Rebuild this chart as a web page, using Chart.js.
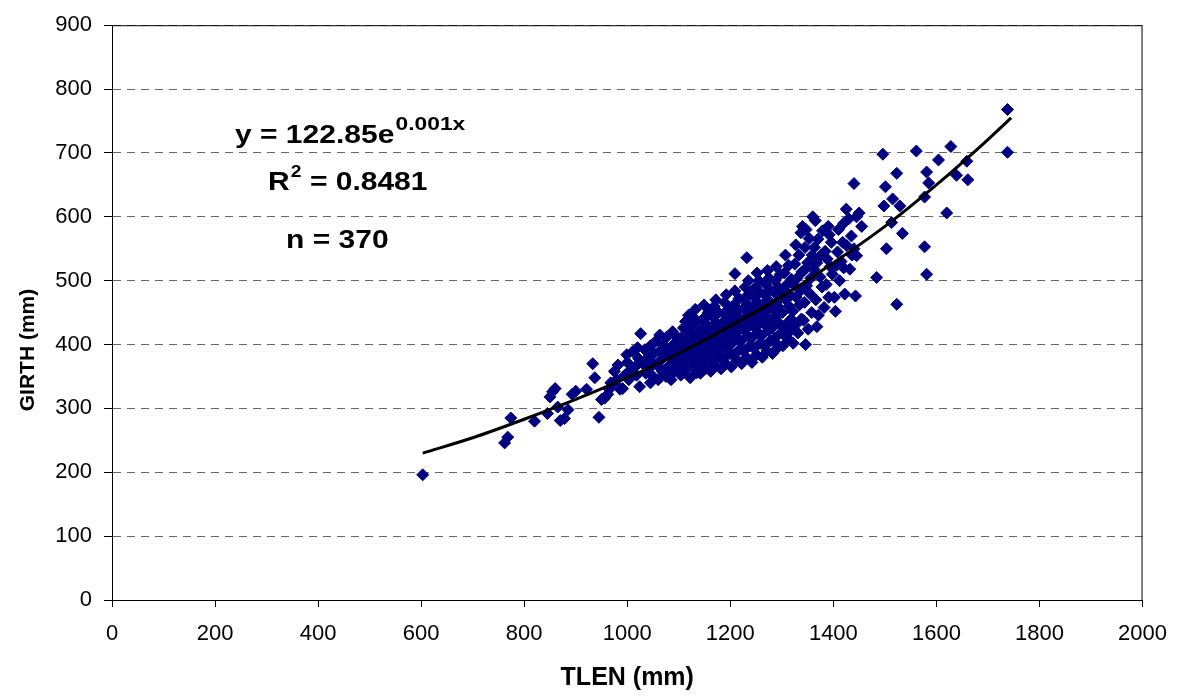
<!DOCTYPE html>
<html>
<head>
<meta charset="utf-8">
<script src="https://cdn.jsdelivr.net/npm/chart.js@4.4.1/dist/chart.umd.min.js"></script>
<style>
  body { margin: 0; background: #fff; }
</style>
</head>
<body>
<canvas id="myChart" width="1181" height="696"></canvas>
<script>
// Scatter data (TLEN vs GIRTH, mm)
var tlen = [
  // tail
  603, 762, 768, 774, 820, 845, 850, 855, 860, 865, 870, 878, 885, 893, 900,
  // 900-1000
  921, 933, 937, 945, 950, 956, 962, 968, 972, 975, 982, 986, 991, 995, 999, 1000, 1003, 1006, 980, 965,
  // 1000-1100
  1011, 1015, 1018, 1022, 1024, 1026, 1030, 1034, 1036, 1040, 1042, 1045, 1048, 1050, 1052, 1055, 1058, 1060, 1063, 1063,
  1066, 1068, 1070, 1072, 1075, 1077, 1080, 1082, 1085, 1088, 1090, 1092, 1094, 1096, 1098, 1100, 1100, 1020, 1045, 1085,
  // 1100-1200
  1104, 1112, 1108, 1116, 1102, 1118, 1106, 1114, 1110, 1103, 1117, 1109, 1113, 1119, 1111, 1105, 1115,
  1122, 1135, 1128, 1138, 1124, 1131, 1126, 1137, 1121, 1133, 1129, 1139, 1125, 1134, 1127, 1132, 1136, 1130,
  1142, 1151, 1146, 1158, 1141, 1154, 1148, 1156, 1143, 1150, 1159, 1145, 1153, 1147, 1157, 1149, 1152, 1144, 1155,
  1162, 1171, 1166, 1178, 1161, 1174, 1168, 1176, 1163, 1170, 1179, 1165, 1173, 1167, 1177, 1169, 1172, 1164, 1175,
  1182, 1191, 1186, 1198, 1181, 1194, 1188, 1196, 1183, 1190, 1199, 1185, 1193, 1187, 1197, 1189, 1192, 1184, 1195,
  // 1200-1300
  1202, 1212, 1206, 1218, 1201, 1214, 1208, 1216, 1203, 1210, 1219, 1205, 1213, 1207, 1217, 1209, 1209, 1204, 1215,
  1222, 1231, 1226, 1238, 1221, 1234, 1228, 1236, 1223, 1230, 1239, 1225, 1233, 1227, 1237, 1229, 1235, 1232, 1224, 1240,
  1242, 1251, 1246, 1258, 1241, 1254, 1248, 1256, 1243, 1250, 1259, 1245, 1253, 1247, 1257, 1249, 1255, 1252, 1244, 1260,
  1262, 1271, 1266, 1278, 1261, 1274, 1268, 1276, 1263, 1270, 1279, 1265, 1273, 1267, 1277, 1269, 1275, 1272, 1264,
  1282, 1288, 1291, 1286, 1298, 1281, 1294, 1284, 1296, 1283, 1290, 1299, 1285, 1293, 1287, 1297, 1289, 1292,
  // 1300-1400
  1302, 1311, 1315, 1306, 1318, 1301, 1314, 1308, 1316, 1303, 1310, 1319, 1305, 1313, 1307, 1309,
  1322, 1331, 1326, 1338, 1321, 1334, 1328, 1336, 1323, 1330, 1339, 1325, 1333, 1327, 1337, 1340,
  1346, 1351, 1342, 1358, 1344, 1354, 1348, 1356, 1343, 1350, 1359, 1345, 1353, 1347, 1360,
  1368, 1371, 1366, 1378, 1374, 1362, 1368, 1376, 1363, 1370, 1379, 1365,
  1382, 1391, 1386, 1398, 1394, 1388, 1384, 1396, 1392, 1390,
  // 1400-1460
  1402, 1404, 1406, 1410, 1415, 1420, 1422, 1426, 1430, 1432, 1425, 1420, 1435, 1440, 1440, 1443, 1445, 1445, 1450, 1455,
  1412, 1408, 1418, 1436,
  // 1480+
  1484, 1496, 1501, 1498, 1503, 1513, 1515, 1523, 1523, 1529, 1534, 1561, 1577, 1577, 1581, 1581, 1585, 1604, 1620, 1628,
  1639, 1659, 1661, 1738, 1738
];
var girth = [
  // tail
  196, 246, 255, 285, 280, 292, 318, 326, 331, 302, 281, 284, 298, 322, 327,
  // 900-1000
  330, 370, 348, 286, 314, 316, 322, 340, 339, 358, 368, 330, 331, 352, 384, 372, 345, 360, 345, 330,
  // 1000-1100
  389, 365, 352, 378, 334, 417, 370, 392, 355, 380, 362, 398, 372, 350, 386, 405, 368, 345, 415, 390,
  376, 358, 400, 384, 350, 412, 366, 392, 378, 420, 357, 402, 386, 370, 410, 395, 362, 395, 340, 345,
  // 1100-1200
  352, 360, 368, 374, 380, 386, 392, 398, 404, 410, 418, 426, 436, 446, 372, 384, 396,
  348, 356, 364, 370, 378, 384, 390, 396, 402, 408, 414, 420, 428, 436, 444, 455, 388, 400,
  355, 362, 370, 376, 382, 388, 394, 400, 406, 412, 418, 424, 432, 440, 450, 462, 396, 410, 380,
  358, 366, 372, 380, 386, 392, 398, 404, 410, 416, 422, 428, 434, 442, 450, 460, 470, 402, 418,
  362, 370, 378, 386, 392, 398, 404, 410, 416, 422, 428, 434, 440, 448, 456, 466, 478, 412, 430,
  // 1200-1300
  365, 376, 384, 392, 400, 408, 416, 422, 428, 434, 440, 446, 454, 462, 472, 484, 511, 420, 438,
  370, 380, 390, 398, 406, 414, 422, 430, 436, 442, 448, 456, 464, 472, 480, 490, 500, 536, 428, 446,
  372, 384, 394, 402, 410, 418, 426, 434, 440, 446, 452, 458, 466, 474, 482, 490, 500, 512, 440, 456,
  380, 390, 398, 406, 414, 422, 430, 438, 446, 452, 458, 464, 470, 478, 486, 494, 504, 516, 450,
  386, 392, 400, 410, 418, 426, 434, 442, 450, 458, 466, 474, 482, 490, 500, 510, 522, 460,
  // 1300-1400
  398, 410, 420, 430, 440, 450, 460, 470, 478, 486, 494, 502, 512, 524, 540, 470,
  402, 418, 430, 440, 452, 462, 474, 484, 494, 504, 514, 526, 540, 556, 575, 585,
  400, 424, 438, 450, 466, 480, 492, 504, 516, 528, 540, 552, 566, 580, 600,
  428, 446, 470, 490, 506, 518, 528, 540, 552, 565, 578, 594,
  458, 474, 494, 510, 522, 534, 546, 560, 572, 585,
  // 1400-1460
  474, 452, 524, 580, 530, 520, 479, 555, 597, 518, 612, 590, 570, 652, 550, 476, 539, 600, 606, 585,
  500, 545, 560, 540,
  // 1480+
  505, 698, 647, 617, 550, 591, 628, 668, 463, 617, 574, 703, 631, 553, 510, 670, 653, 689, 606, 710,
  665, 687, 658, 768, 701
];

// Trend line as it appears in the picture
var trendX = [603, 700, 800, 900, 1000, 1100, 1200, 1300, 1400, 1500, 1600, 1700, 1745];
var trendY = [230, 254, 283, 314, 348, 386, 429, 475, 528, 585, 650, 721, 755];

// Text box in the plot
var noteLines = [
  { text: 'y = 122.85e', sup: '0.001x', rest: '', x: 235, y: 143 },
  { text: 'R', sup: '2', rest: ' = 0.8481', x: 268, y: 190 },
  { text: 'n = 370', sup: '', rest: '', x: 286, y: 248 }
];

var FONT = "'Liberation Sans', Arial, sans-serif";

var points = tlen.map(function (x, i) { return { x: x, y: girth[i] }; });
var trend = trendX.map(function (x, i) { return { x: x, y: trendY[i] }; });

var frame = {
  id: 'frame',
  afterDraw: function (chart) {
    var a = chart.chartArea, ctx = chart.ctx;
    ctx.save();
    ctx.strokeStyle = '#000';
    ctx.lineWidth = 1;
    ctx.strokeRect(a.left + 0.5, a.top + 0.5, a.right - a.left - 1, a.bottom - a.top);
    ctx.fillStyle = '#000';
    noteLines.forEach(function (n) {
      ctx.save();
      ctx.translate(n.x, n.y);
      ctx.scale(1.2, 1);
      ctx.font = 'bold 25px ' + FONT;
      ctx.textBaseline = 'alphabetic';
      ctx.fillText(n.text, 0, 0);
      var w = ctx.measureText(n.text).width;
      if (n.sup) {
        ctx.font = 'bold ' + (n.sup.length > 1 ? 19 : 16) + 'px ' + FONT;
        ctx.fillText(n.sup, w + 1, -13);
        w += ctx.measureText(n.sup).width + 1;
      }
      if (n.rest) {
        ctx.font = 'bold 25px ' + FONT;
        ctx.fillText(n.rest, w, 0);
      }
      ctx.restore();
    });
    // y axis title, sitting a bit below the axis middle as in the picture
    ctx.save();
    ctx.translate(28, 350);
    ctx.rotate(-Math.PI / 2);
    ctx.font = 'bold 21px ' + FONT;
    ctx.textAlign = 'center';
    ctx.textBaseline = 'middle';
    ctx.fillText('GIRTH (mm)', 0, 0);
    ctx.restore();
    ctx.restore();
  }
};

var ctx = document.getElementById('myChart');
var myChart = new Chart(ctx, {
  type: 'scatter',
  data: {
    datasets: [
      {
        data: trend,
        showLine: true,
        borderColor: '#000',
        borderWidth: 3,
        pointRadius: 0,
        cubicInterpolationMode: 'monotone',
        fill: false
      },
      {
        data: points,
        pointStyle: 'rectRot',
        pointRadius: 6,
        backgroundColor: '#000080',
        borderColor: '#000080',
        borderWidth: 1
      }
    ]
  },
  options: {
    responsive: false,
    devicePixelRatio: 1,
    animation: false,
    layout: { padding: { left: 0, right: 38, top: 19, bottom: 0 } },
    plugins: { legend: { display: false }, tooltip: { enabled: false } },
    scales: {
      x: {
        min: 0,
        max: 2000,
        afterFit: function (axis) { axis.height = 96; },
        ticks: {
          stepSize: 200, color: '#000', padding: 14, maxRotation: 0,
          font: { family: FONT, size: 22 },
          callback: function (v) { return String(v); }
        },
        grid: { drawOnChartArea: false, drawTicks: true, tickLength: 7, tickColor: '#000' },
        border: { color: '#000', width: 1 },
        title: { display: true, text: 'TLEN (mm)', color: '#000', padding: { top: 3, bottom: 3 }, font: { family: FONT, size: 25, weight: 'bold' } }
      },
      y: {
        min: 0,
        max: 900,
        afterFit: function (axis) { axis.width = 112; },
        ticks: { stepSize: 100, color: '#000', padding: 12, font: { family: FONT, size: 22 } },
        grid: { color: '#666', lineWidth: 1, tickLength: 8, tickColor: '#000', tickBorderDash: [] },
        border: { color: '#000', width: 1, dash: [8, 6] }
      }
    }
  },
  plugins: [frame]
});
</script>
</body>
</html>
